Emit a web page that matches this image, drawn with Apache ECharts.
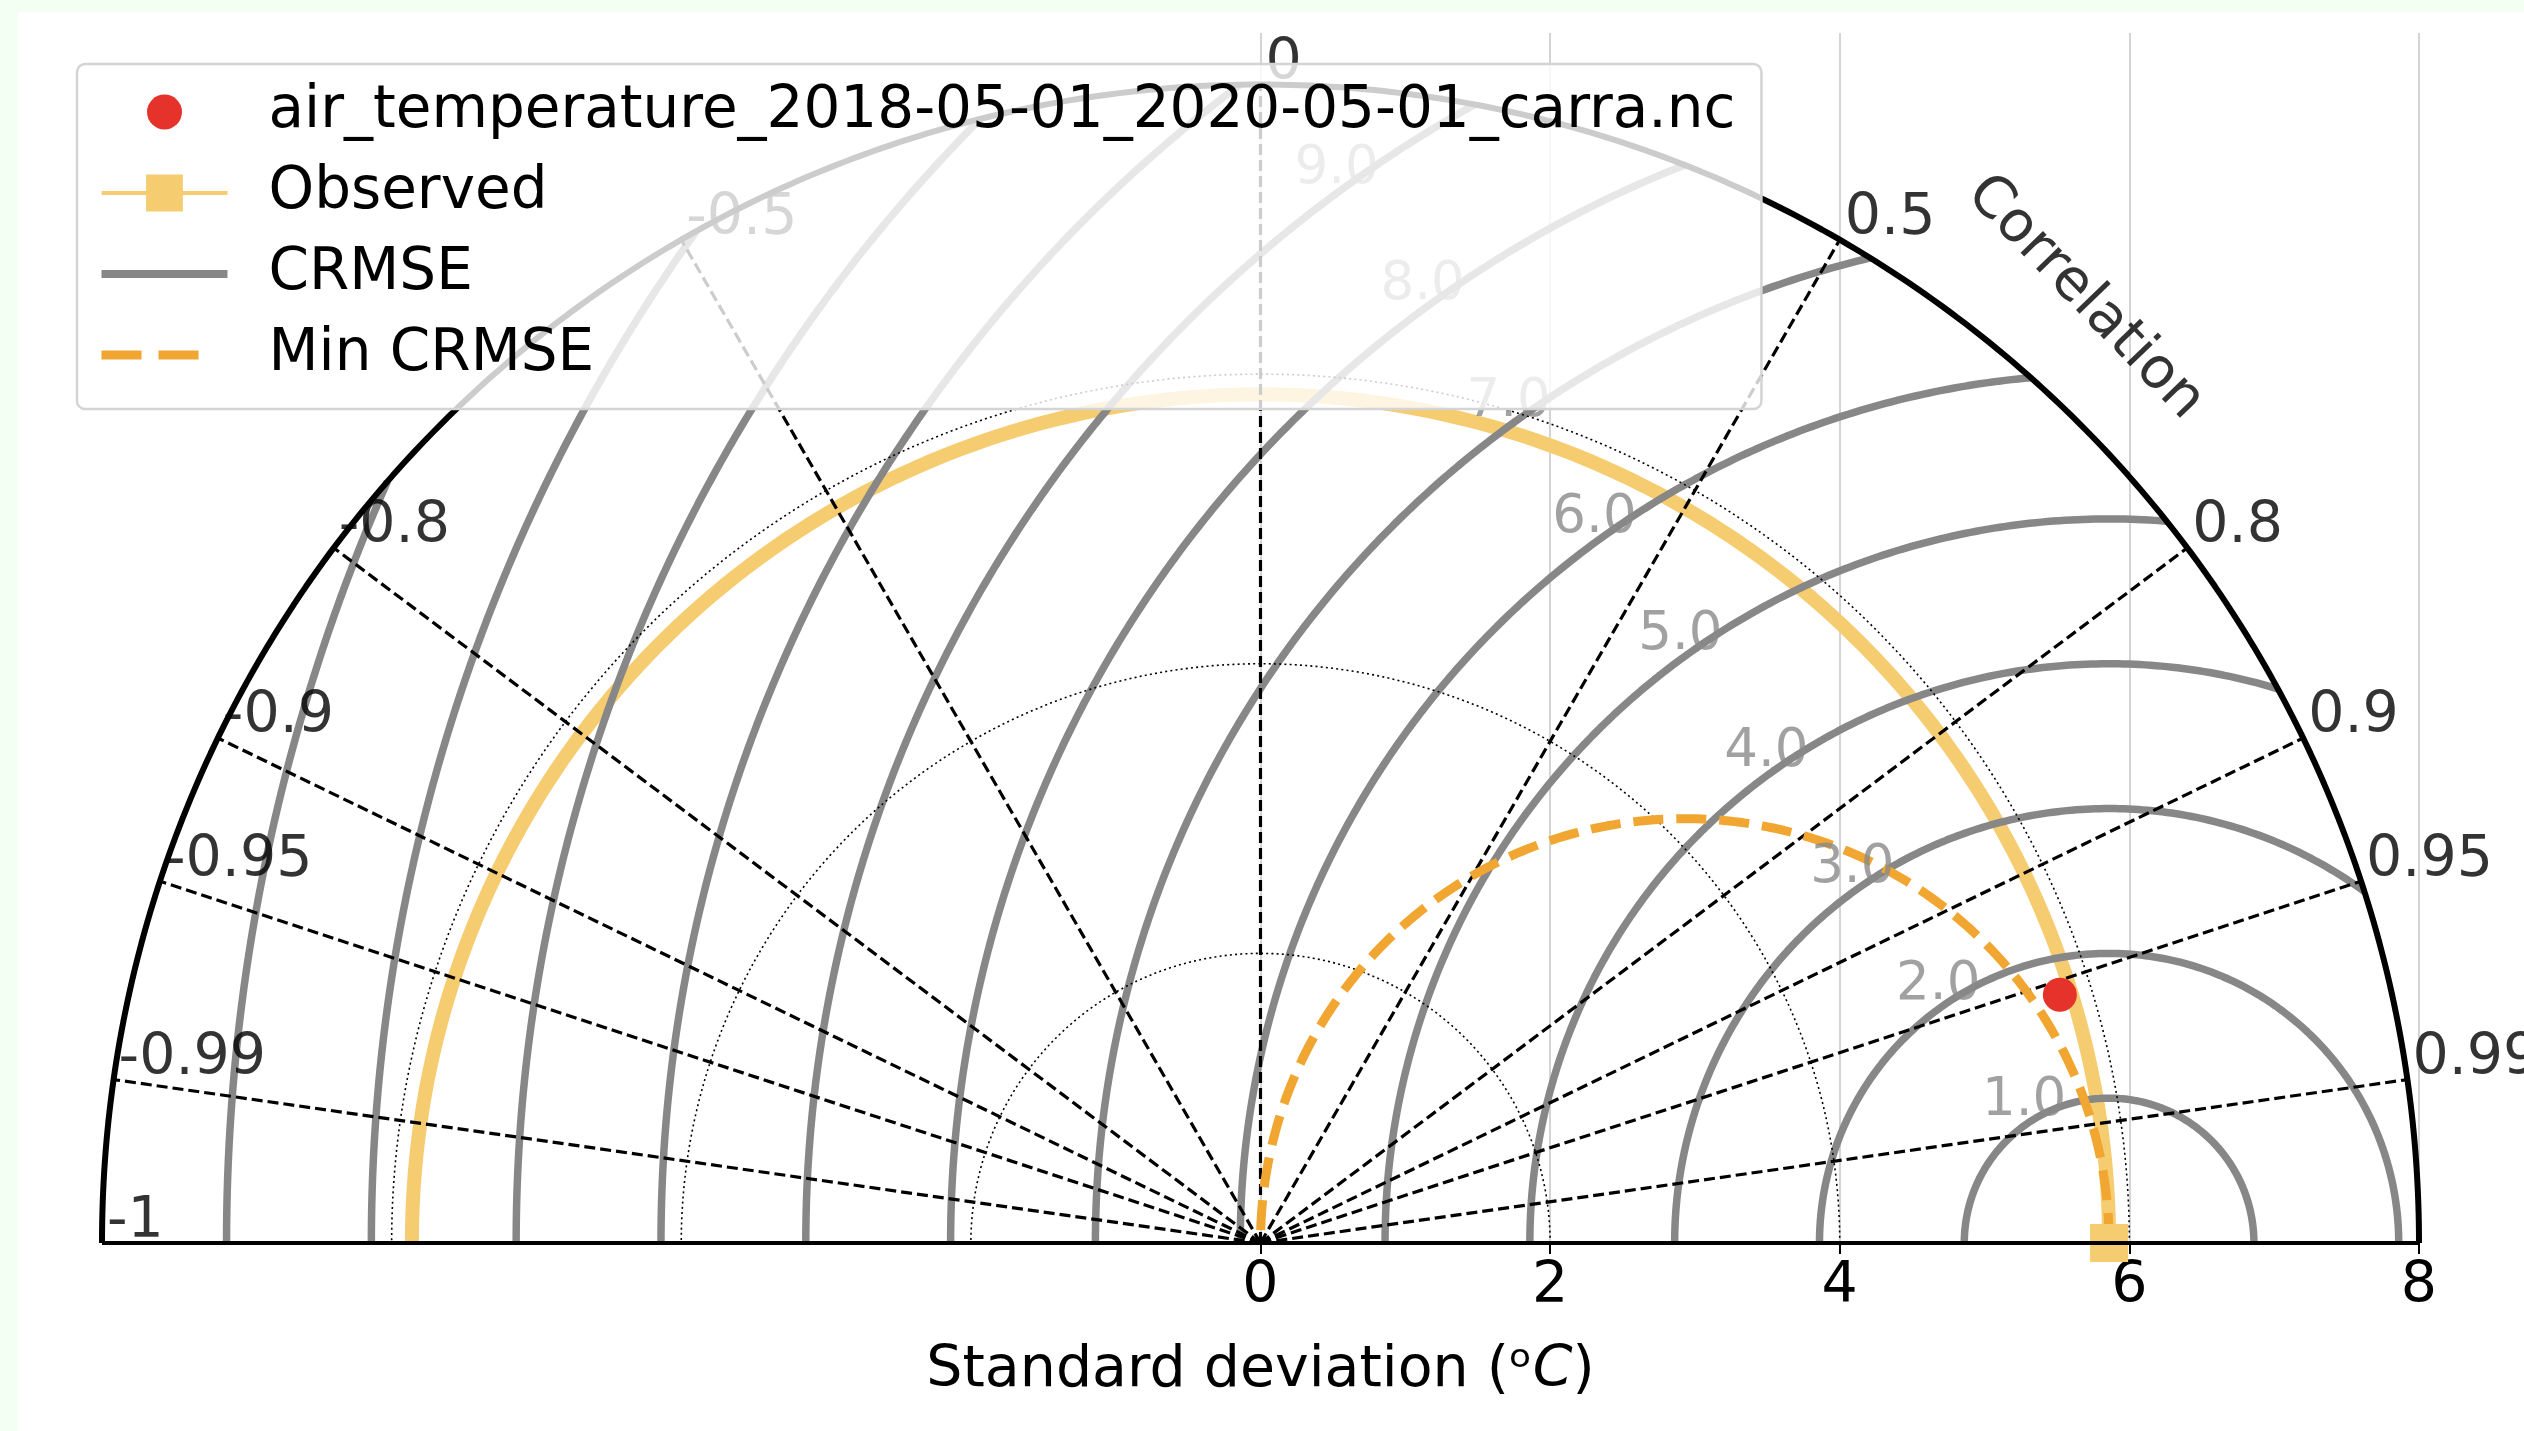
<!DOCTYPE html>
<html lang="en">
<head>
    <meta charset="UTF-8">
    <title>Taylor diagram</title>
    <script src="https://cdn.jsdelivr.net/npm/echarts@6.0.0/dist/echarts.min.js"></script>
    <style>
        body { margin: 0; background: #f2fff2; }
        #main { position: absolute; left: 18px; top: 12px; width: 2506px; height: 1419px; background: #ffffff; }
    </style>
</head>
<body>
    <div id="main"></div>
    <script>
        // observed and model statistics
        const stdRef = 5.86;
        const modelName = 'air_temperature_2018-05-01_2020-05-01_carra.nc';
        const modelStd = [5.78];
        const modelCorr = [0.955];

        // axes
        const stdMax = 8;
        const xTicks = [0, 2, 4, 6, 8];
        const stdRings = [2, 4, 6];
        const corrTicks = [-1, -0.99, -0.95, -0.9, -0.8, -0.5, 0, 0.5, 0.8, 0.9, 0.95, 0.99];
        const corrTickLabels = ['-1', '-0.99', '-0.95', '-0.9', '-0.8', '-0.5', '0', '0.5', '0.8', '0.9', '0.95', '0.99'];
        const corrLines = [-0.99, -0.95, -0.9, -0.8, -0.5, 0, 0.5, 0.8, 0.9, 0.95, 0.99];

        // centred RMSE contours
        const crmseLevels = [1, 2, 3, 4, 5, 6, 7, 8, 9, 10, 11, 12, 13];
        const crmseLabelLevels = [1, 2, 3, 4, 5, 6, 7, 8, 9];
        const crmseLabels = ['1.0', '2.0', '3.0', '4.0', '5.0', '6.0', '7.0', '8.0', '9.0'];

        const FONT = 'DejaVu Sans';
        const OBS = '#f6cc70', GREY = '#878787', ORANGE = '#f0a630';
        const yMax = 1210 * 16 / 2317;

        function arc(cx, r, t0, t1, n) {
            const pts = [];
            for (let i = 0; i <= n; i++) {
                const t = t0 + (t1 - t0) * i / n;
                pts.push([cx + r * Math.cos(t), r * Math.sin(t)]);
            }
            return pts;
        }

        function polar(r, c) {
            return [r * c, r * Math.sqrt(Math.max(0, 1 - c * c))];
        }

        const series = [];

        // observed std arc
        series.push({
            name: 'obsArc', type: 'line', data: arc(0, stdRef, 0, Math.PI, 240),
            symbol: 'none', lineStyle: { color: OBS, width: 14 }, z: 1, silent: true
        });

        // CRMSE arcs, cut at the outer circle
        crmseLevels.forEach(r => {
            let t0 = 0;
            if (stdRef + r > stdMax) {
                const xi = (stdMax * stdMax + stdRef * stdRef - r * r) / (2 * stdRef);
                const yi = Math.sqrt(stdMax * stdMax - xi * xi);
                t0 = Math.atan2(yi, xi - stdRef);
            }
            series.push({
                name: 'CRMSE', type: 'line', data: arc(stdRef, r, t0, Math.PI, 200),
                symbol: 'none', lineStyle: { color: GREY, width: 7.5 }, z: 2, silent: true
            });
        });

        // std dotted rings
        stdRings.forEach(r => {
            series.push({
                name: 'ring', type: 'line', data: arc(0, r, 0, Math.PI, 240),
                symbol: 'none', lineStyle: { color: '#000', width: 1.6, type: [2, 3.2] }, z: 3, silent: true
            });
        });

        // correlation rays
        corrLines.forEach(c => {
            series.push({
                name: 'ray', type: 'line', data: [[0, 0], polar(stdMax, c)],
                symbol: 'none', lineStyle: { color: '#000', width: 3.2, type: [11, 5] }, z: 4, silent: true
            });
        });

        // outer circle
        series.push({
            name: 'outer', type: 'line', data: arc(0, stdMax, 0, Math.PI, 360),
            symbol: 'none', lineStyle: { color: '#000', width: 6 }, z: 5, silent: true
        });

        // min CRMSE
        series.push({
            name: 'Min CRMSE', type: 'line', data: arc(stdRef / 2, stdRef / 2, 0, Math.PI, 240),
            symbol: 'none', lineStyle: { color: ORANGE, width: 9, type: [30, 13] }, z: 6, silent: true
        });

        // observed point
        series.push({
            name: 'Observed', type: 'line', data: [[stdRef, 0]], clip: false,
            symbol: 'rect', symbolSize: 38,
            itemStyle: { color: OBS }, lineStyle: { color: OBS, width: 4 }, z: 7
        });

        // base line
        series.push({
            name: 'base', type: 'line', data: [[-stdMax, 0], [stdMax, 0]],
            symbol: 'none', lineStyle: { color: '#000', width: 4 }, z: 9, silent: true
        });

        // model
        series.push({
            name: modelName, type: 'scatter',
            data: modelStd.map((s, i) => polar(s, modelCorr[i])),
            symbolSize: 34, itemStyle: { color: '#e5322a', opacity: 1 }, z: 10
        });

        // correlation tick labels
        series.push({
            name: 'corrLabels', type: 'scatter', symbolSize: 0, silent: true, z: 11,
            data: corrTicks.map(c => polar(stdMax, c)),
            label: {
                show: true, position: [5, 8], align: 'left', verticalAlign: 'bottom',
                formatter: p => corrTickLabels[p.dataIndex],
                fontFamily: FONT, fontSize: 57, color: '#000'
            }
        });

        // CRMSE contour labels
        const labAng = 126.4 * Math.PI / 180;
        series.push({
            name: 'crmseLabels', type: 'scatter', symbolSize: 0, silent: true, z: 11,
            data: crmseLabelLevels.map(k => [stdRef + k * Math.cos(labAng), k * Math.sin(labAng)]),
            label: {
                show: true, position: 'inside', offset: [1, -25],
                formatter: p => crmseLabels[p.dataIndex],
                fontFamily: FONT, fontSize: 53, color: '#8a8a8a'
            }
        });

        // correlation axis title
        series.push({
            name: 'corrTitle', type: 'scatter', symbolSize: 0, silent: true, z: 11,
            data: [polar(8.66, Math.cos(48.9 * Math.PI / 180))],
            label: {
                show: true, position: 'inside', rotate: -46, formatter: 'Correlation',
                fontFamily: FONT, fontSize: 57, color: '#000'
            }
        });

        const chart = echarts.init(document.getElementById('main'));
        chart.setOption({
            animation: false,
            grid: { left: 84, right: 105, top: 21, bottom: 188 },
            legend: {
                orient: 'vertical', left: 59, top: 52, z: 20,
                selectedMode: false,
                backgroundColor: 'rgba(255,255,255,0.8)',
                borderColor: '#d4d4d4', borderWidth: 2.5, borderRadius: 8,
                padding: [19, 26, 25, 20],
                itemWidth: 126, itemHeight: 46, itemGap: 23,
                textStyle: { fontFamily: FONT, fontSize: 58, color: '#000', padding: [0, 0, 0, 36] },
                data: [
                    { name: modelName, icon: 'path://M0,0M46,46M5.5,23a17.5,17.5 0 1,0 35,0a17.5,17.5 0 1,0 -35,0z' },
                    { name: 'Observed', lineStyle: { color: OBS, width: 4 } },
                    { name: 'CRMSE', itemStyle: { opacity: 0 }, lineStyle: { color: GREY, width: 8 } },
                    { name: 'Min CRMSE', itemStyle: { opacity: 0 }, lineStyle: { color: ORANGE, width: 9, type: [40, 17, 40, 40] } }
                ]
            },
            xAxis: {
                type: 'value', min: -stdMax, max: stdMax, interval: 2,
                name: 'Standard deviation (\u1D52{i|C})',
                nameLocation: 'middle', nameGap: 100,
                nameTextStyle: {
                    fontFamily: FONT, fontSize: 57, color: '#000',
                    rich: {
                        i: { fontFamily: FONT, fontSize: 57, color: '#000', fontStyle: 'italic' }
                    }
                },
                axisLine: { show: false },
                axisTick: { show: true, customValues: xTicks, length: 11, lineStyle: { color: '#000', width: 2 } },
                axisLabel: { customValues: xTicks, fontFamily: FONT, fontSize: 57, color: '#000', margin: 16 },
                splitLine: { show: true, lineStyle: { color: '#c6c6c6', width: 1.5 } }
            },
            yAxis: { type: 'value', min: 0, max: yMax, show: false },
            series: series
        });
    </script>
</body>
</html>
